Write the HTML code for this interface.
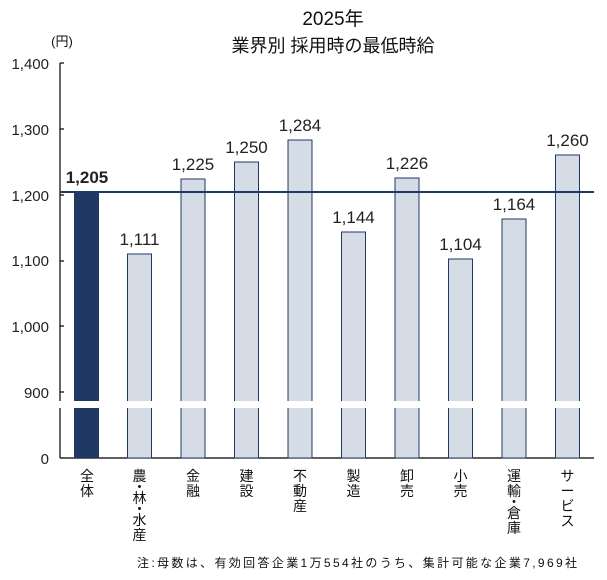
<!DOCTYPE html>
<html><head><meta charset="utf-8"><style>
body{margin:0;background:#fff;}
svg text{font-family:"Liberation Sans","Noto Sans CJK JP",sans-serif;}
</style></head><body>
<svg width="607" height="575" xmlns="http://www.w3.org/2000/svg">
<text x="333" y="25" font-size="19" text-anchor="middle" fill="#111">2025年</text>
<text x="333" y="52" font-size="18" text-anchor="middle" fill="#111">業界別  採用時の最低時給</text>
<text x="62" y="46" font-size="13" text-anchor="middle" fill="#111">(円)</text>
<g font-size="15" fill="#222" text-anchor="end">
<text x="49" y="69">1,400</text>
<text x="49" y="135">1,300</text>
<text x="49" y="201">1,200</text>
<text x="49" y="266">1,100</text>
<text x="49" y="332">1,000</text>
<text x="49" y="398">900</text>
<text x="49" y="464">0</text>
</g>
<g stroke="#000" stroke-width="1.2">
<line x1="60" y1="63" x2="60" y2="458"/>
<line x1="60" y1="458" x2="594" y2="458"/>
<line x1="60" y1="63" x2="64" y2="63"/>
<line x1="60" y1="129" x2="64" y2="129"/>
<line x1="60" y1="195" x2="64" y2="195"/>
<line x1="60" y1="261" x2="64" y2="261"/>
<line x1="60" y1="326" x2="64" y2="326"/>
<line x1="60" y1="392" x2="64" y2="392"/>
</g>
<rect x="74" y="192" width="25" height="266" fill="#1f3864"/>
<g fill="#d6dce5" stroke="#1f3864" stroke-width="1">
<rect x="127.5" y="254" width="24" height="204"/>
<rect x="181" y="179" width="24" height="279"/>
<rect x="234.5" y="162" width="24" height="296"/>
<rect x="288" y="140" width="24" height="318"/>
<rect x="341.5" y="232" width="24" height="226"/>
<rect x="395" y="178" width="24" height="280"/>
<rect x="448.5" y="259" width="24" height="199"/>
<rect x="502" y="219" width="24" height="239"/>
<rect x="555.5" y="155" width="24" height="303"/>
</g>
<rect x="55" y="401" width="545" height="7" fill="#fff"/>
<line x1="60" y1="192" x2="594" y2="192" stroke="#1f3864" stroke-width="2"/>
<g font-size="17" fill="#222" text-anchor="middle">
<text x="87" y="183" font-weight="bold">1,205</text>
<text x="139.5" y="245">1,111</text>
<text x="193" y="170">1,225</text>
<text x="246.5" y="153">1,250</text>
<text x="300" y="131">1,284</text>
<text x="353.5" y="223">1,144</text>
<text x="407" y="169">1,226</text>
<text x="460.5" y="250">1,104</text>
<text x="514" y="210">1,164</text>
<text x="567.5" y="146">1,260</text>
</g>
<g font-size="14" fill="#111" text-anchor="middle">
<text x="87" y="481">全</text><text x="87" y="496">体</text>
<text x="139.5" y="481">農</text><text x="139.5" y="492">・</text><text x="139.5" y="503">林</text><text x="139.5" y="514">・</text><text x="139.5" y="525">水</text><text x="139.5" y="540">産</text>
<text x="193" y="481">金</text><text x="193" y="496">融</text>
<text x="246.5" y="481">建</text><text x="246.5" y="496">設</text>
<text x="300" y="481">不</text><text x="300" y="496">動</text><text x="300" y="511">産</text>
<text x="353.5" y="481">製</text><text x="353.5" y="496">造</text>
<text x="407" y="481">卸</text><text x="407" y="496">売</text>
<text x="460.5" y="481">小</text><text x="460.5" y="496">売</text>
<text x="514" y="481">運</text><text x="514" y="496">輸</text><text x="514" y="507">・</text><text x="514" y="518">倉</text><text x="514" y="533">庫</text>
<text x="567.5" y="481">サ</text><text x="567.5" y="496">ー</text><text x="567.5" y="511">ビ</text><text x="567.5" y="526">ス</text>
</g>
<text x="137" y="567" font-size="12" fill="#111" textLength="440" lengthAdjust="spacing">注:母数は、有効回答企業1万554社のうち、集計可能な企業7,969社</text>
</svg>
</body></html>
